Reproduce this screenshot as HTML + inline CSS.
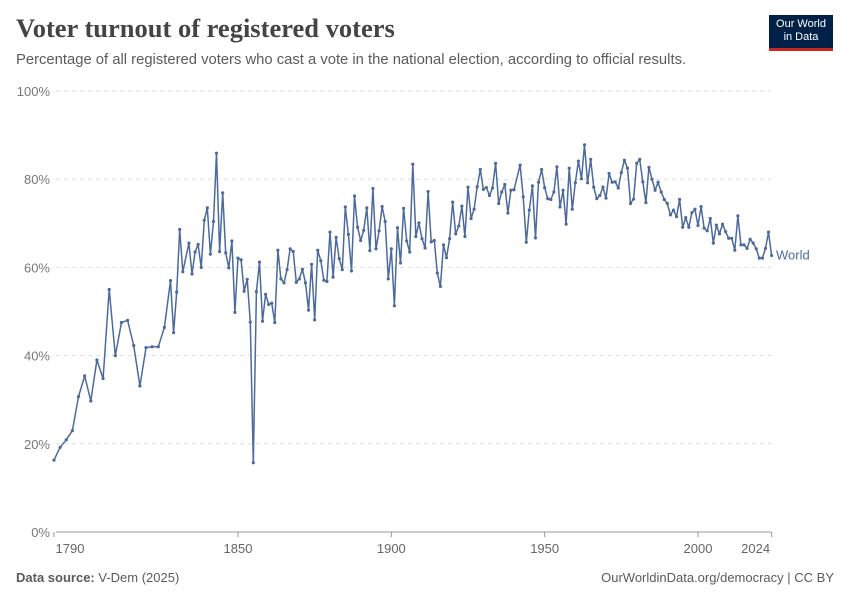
<!DOCTYPE html>
<html><head><meta charset="utf-8">
<style>
body{margin:0;background:#fff;width:850px;height:600px;overflow:hidden;font-family:"Liberation Sans",sans-serif;}
.title{position:absolute;left:16px;top:13px;font-family:"Liberation Serif",serif;font-size:26.5px;font-weight:bold;color:#444;}
.sub{position:absolute;left:16px;top:52px;font-size:14.8px;color:#5b5b5b;}
.logo{position:absolute;left:769px;top:15px;width:64px;height:36px;background:#002147;border-bottom:3px solid #ce261e;color:#fff;font-size:11px;line-height:13px;text-align:center;padding-top:3px;box-sizing:border-box;}
.foot{position:absolute;top:570px;font-size:13px;color:#5b5b5b;}
</style></head><body>
<div class="title">Voter turnout of registered voters</div>
<div class="sub">Percentage of all registered voters who cast a vote in the national election, according to official results.</div>
<div class="logo">Our World<br>in Data</div>
<svg id="chart" width="850" height="600" style="position:absolute;left:0;top:0"></svg>
<div class="foot" style="left:16px"><b>Data source:</b> V-Dem (2025)</div>
<div class="foot" style="right:16px">OurWorldinData.org/democracy | CC BY</div>
<script>
const years=[1790,1792,1794,1796,1798,1800,1802,1804,1806,1808,1810,1812,1814,1816,1818,1820,1822,1824,1826,1828,1829,1830,1831,1832,1834,1835,1836,1837,1838,1839,1840,1841,1842,1843,1844,1845,1846,1847,1848,1849,1850,1851,1852,1853,1854,1855,1856,1857,1858,1859,1860,1861,1862,1863,1864,1865,1866,1867,1868,1869,1870,1871,1872,1873,1874,1875,1876,1877,1878,1879,1880,1881,1882,1883,1884,1885,1886,1887,1888,1889,1890,1891,1892,1893,1894,1895,1896,1897,1898,1899,1900,1901,1902,1903,1904,1905,1906,1907,1908,1909,1910,1911,1912,1913,1914,1915,1916,1917,1918,1919,1920,1921,1922,1923,1924,1925,1926,1927,1928,1929,1930,1931,1932,1933,1934,1935,1936,1937,1938,1939,1940,1942,1943,1944,1945,1946,1947,1948,1949,1950,1951,1952,1953,1954,1955,1956,1957,1958,1959,1960,1961,1962,1963,1964,1965,1966,1967,1968,1969,1970,1971,1972,1973,1974,1975,1976,1977,1978,1979,1980,1981,1982,1983,1984,1985,1986,1987,1988,1989,1990,1991,1992,1993,1994,1995,1996,1997,1998,1999,2000,2001,2002,2003,2004,2005,2006,2007,2008,2009,2010,2011,2012,2013,2014,2015,2016,2017,2018,2019,2020,2021,2022,2023,2024];
const turnout=[16.3,19.2,20.9,23,30.7,35.4,29.7,39,34.8,55,40,47.5,48,42.3,33.1,41.8,42,42,46.4,57,45.2,54.4,68.6,59,65.5,58.5,63.5,65.2,60,70.7,73.5,63,70.4,85.9,63.6,76.9,63.3,59.9,66,49.8,62.1,61.7,54.6,57.3,47.6,15.7,54.5,61.2,47.8,53.9,51.6,51.9,47.5,63.9,57.4,56.5,59.5,64.2,63.6,56.6,57.4,59.6,56.5,50.3,60.7,48.1,63.9,61.5,57.1,56.8,68,57.8,66.8,62,59.5,73.7,67.5,59.2,76.2,69.1,66.1,68.4,73.5,63.8,77.9,64.2,68.3,73.8,70.4,57.4,64.2,51.3,69,61,73.4,66,63.5,83.4,67,70.1,66.5,64.4,77.2,65.8,66.1,58.7,55.7,65.1,62.2,66.5,74.8,67.6,69.4,73.9,67,78.2,71.1,73.2,78.3,82.2,77.7,78.1,76.3,78,83.6,74.5,77.1,78.8,72.3,77.5,77.6,83.2,76,65.7,73,78.5,66.7,79.3,82.2,78.1,75.6,75.4,77.1,82.8,73.7,77.5,69.8,82.5,73.2,79.2,84.1,80.1,87.8,79.2,84.5,78.2,75.6,76.3,78.2,75.7,81.3,79.3,79.4,78,81.5,84.3,82.5,74.5,75.5,83.6,84.5,79.4,74.7,82.7,80,77.5,79.3,77.1,75.4,74.5,71.9,73,71.5,75.4,69.1,71.3,69.1,72.4,73.2,69.5,73.8,68.9,68.3,71.1,65.5,69.6,67.6,69.8,68.1,66.6,66.6,63.9,71.7,65.1,65.1,64.3,66.4,65.5,64.2,62.1,62.1,64.3,68,62.7];
const yTicks=[0,20,40,60,80,100];
const xTicks=[1790,1850,1900,1950,2000,2024];
const NS="http://www.w3.org/2000/svg";
const svg=document.getElementById('chart');
const x=yr=>54+(yr-1790)*(771.6-54)/(2024-1790);
const y=v=>532-v*4.41;
function mk(t,a){const e=document.createElementNS(NS,t);for(const k in a)e.setAttribute(k,a[k]);svg.appendChild(e);return e;}
yTicks.forEach(v=>{
  const g=mk('line',{x1:56,x2:771,y1:y(v),y2:y(v),stroke:v===0?'#999':'#ddd','stroke-dasharray':v===0?'none':'4,4'});
  
  
  const t=mk('text',{x:50,y:y(v)+5,'text-anchor':'end','font-size':13,fill:'#777','font-family':'Liberation Sans, sans-serif'});
  t.textContent=v+'%';
  
  
});
xTicks.forEach((yr,i)=>{
  const tk=mk('line',{x1:x(yr),x2:x(yr),y1:532,y2:537,stroke:'#999'});
  
  
  const t=mk('text',{x:i===0?x(yr)+16:(i===xTicks.length-1?x(yr)-16:x(yr)),y:553,'text-anchor':'middle','font-size':13,fill:'#666','font-family':'Liberation Sans, sans-serif'});
  t.textContent=yr;
  
  
});
const pts=years.map((yr,i)=>x(yr).toFixed(1)+','+y(turnout[i]).toFixed(1)).join(' ');
const line=mk('polyline',{points:pts,fill:'none',stroke:'#4c6a9c','stroke-width':1.5,'stroke-linejoin':'round'});


years.forEach((yr,i)=>{
  const c=mk('circle',{cx:x(yr),cy:y(turnout[i]),r:1.6,fill:'#4c6a9c'});
  
  
});
const lab=mk('text',{x:776,y:y(turnout[turnout.length-1])+4,'font-size':13,fill:'#4c6a9c','font-family':'Liberation Sans, sans-serif'});
lab.textContent='World';


</script>
</body></html>
